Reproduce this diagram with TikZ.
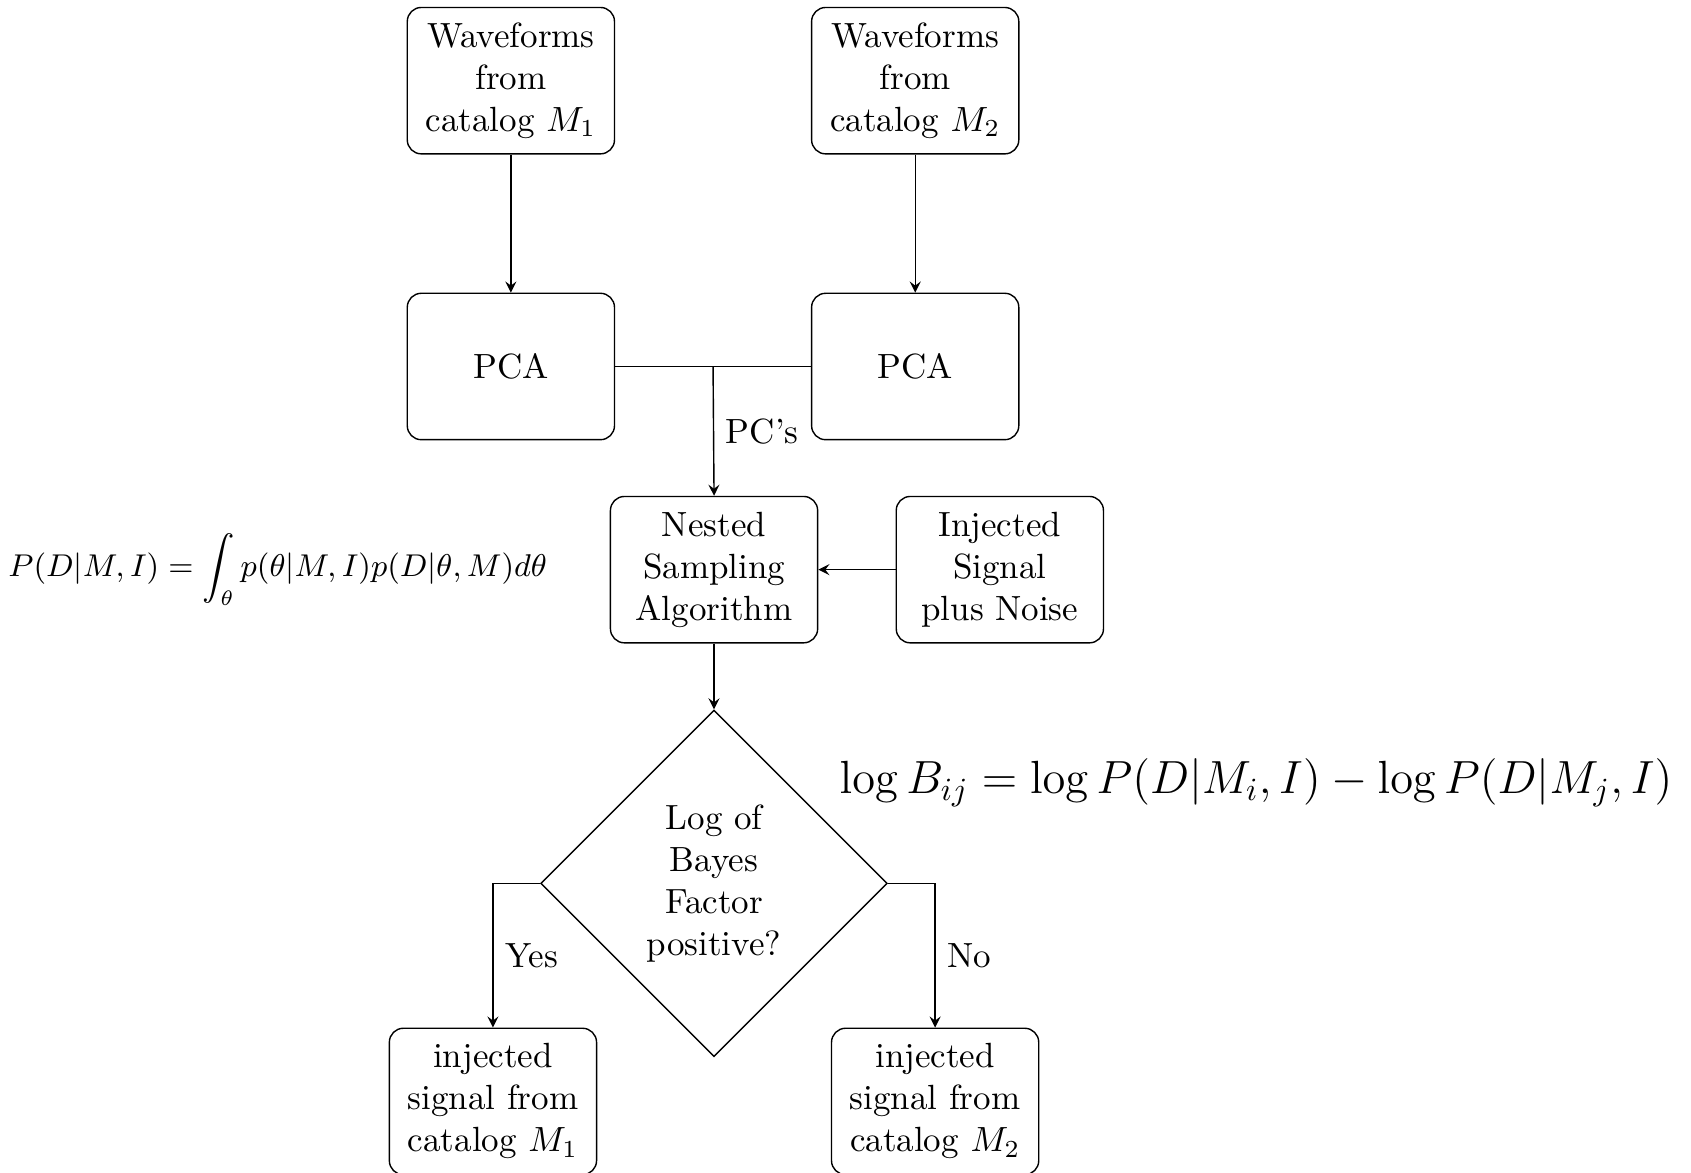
\documentclass[tikz,border=0pt]{standalone}
\usepackage{amsmath}
\usepackage{graphicx}
\usetikzlibrary{shapes.geometric,arrows}

\tikzset{
    block/.style = {draw, rounded corners, align=center, text width=1.94cm,
                    minimum height=1.47cm, inner sep=2pt},
    decision/.style = {draw, diamond, aspect=1, align=center, text width=4em,
                       inner sep=1pt, minimum size=3.48cm},
    flow/.style = {-stealth}
}

\begin{document}
\begin{tikzpicture}[line width = 0.4pt]

        \useasboundingbox (-7.17, -6.05) rectangle (9.81, 5.72);

        % Two catalogs and their principal component analysis.
        \node[block] (wave1) at (-2.04, 4.91) {Waveforms\\ from\\ catalog $M_1$};
        \node[block] (wave2) at (2.02, 4.91) {Waveforms\\ from\\ catalog $M_2$};
        \node[block] (pca1) at (-2.04, 2.04) {PCA};
        \node[block] (pca2) at (2.02, 2.04) {PCA};

        % Sampler with the injected data.
        \node[block] (nested) at (0.0, 0.0) {Nested\\ Sampling\\ Algorithm};
        \node[block] (inject) at (2.87, 0.0) {Injected\\ Signal\\ plus Noise};

        % Decision on the sign of the Bayes factor.
        \node[decision] (bayes) at (0.0, -3.15) {Log of\\ Bayes\\ Factor\\ positive?};
        \node[block] (res1) at (-2.22, -5.34) {injected\\ signal from\\ catalog $M_1$};
        \node[block] (res2) at (2.22, -5.34) {injected\\ signal from\\ catalog $M_2$};

        % Equations beside the chart.
        \node[anchor=east, inner sep=0pt] (evid) at (-1.67, 0.0)
            {\small $\displaystyle P(D|M,I) = \int_\theta p(\theta|M,I)p(D|\theta,M)d\theta$};
        \node[anchor=west, inner sep=0pt] (bfac) at (1.255, -2.14)
            {\scalebox{0.923}{\Large $\log B_{ij} = \log P(D|M_i,I) - \log P(D|M_j,I)$}};

        % Connectors.
        \draw[flow] (wave1) to (pca1);
        \draw[flow] (wave2) to (pca2);
        \draw (pca1.east) to coordinate (join) (pca2.west);
        \draw[flow] (join) to node [right] {PC's} (nested.north);
        \draw[flow] (inject) to (nested);
        \draw[flow] (nested) to (bayes);
        \draw[flow] (bayes.west) -| node [pos=0.75, right] {Yes} (res1.north);
        \draw[flow] (bayes.east) -| node [pos=0.75, right] {No} (res2.north);
    \end{tikzpicture}
\end{document}
